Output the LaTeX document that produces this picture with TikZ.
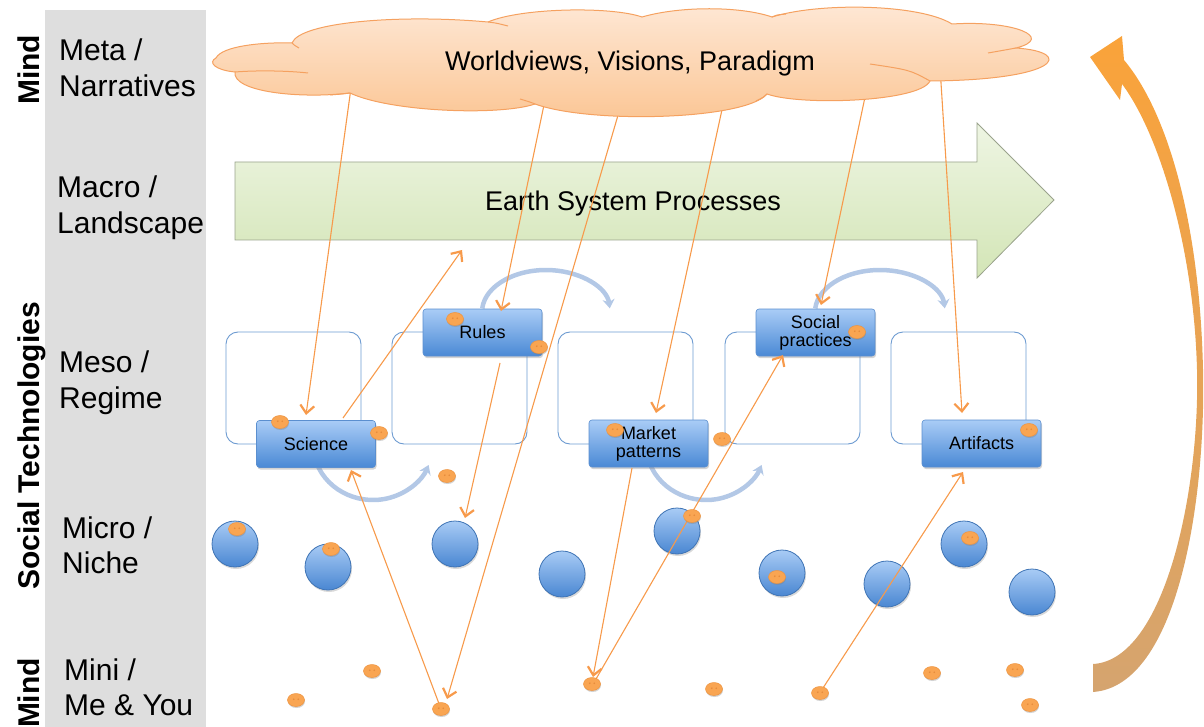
\documentclass[tikz,border=0pt]{standalone}
\usepackage{fontspec}
\setmainfont{Liberation Sans}
\usetikzlibrary{arrows.meta,shapes.geometric,shadows}
\definecolor{bandgray}{HTML}{DEDEDE}
\definecolor{gtop}{HTML}{EEF5E3}
\definecolor{gbot}{HTML}{D3E5B6}
\definecolor{gedge}{HTML}{9AA38C}
\definecolor{cltop}{HTML}{FEE8D6}
\definecolor{clbot}{HTML}{FBC593}
\definecolor{cledge}{HTML}{F5A160}
\definecolor{boxtop}{HTML}{A9CCF6}
\definecolor{boxbot}{HTML}{4A89D5}
\definecolor{boxedge}{HTML}{5B8FCF}
\definecolor{mesoedge}{HTML}{6D9BD1}
\definecolor{circtop}{HTML}{A8CBF5}
\definecolor{circbot}{HTML}{4A87D2}
\definecolor{circedge}{HTML}{3F74B5}
\definecolor{arcblue}{HTML}{B3C8E6}
\definecolor{conncol}{HTML}{F79A4B}
\definecolor{dotfill}{HTML}{F9A552}
\definecolor{dotedge}{HTML}{EE9440}
\definecolor{doteye}{HTML}{E58B3B}
\definecolor{bigtop}{HTML}{FAA33A}
\definecolor{bigbot}{HTML}{D5A46F}
\begin{document}
\begin{tikzpicture}[x=1pt,y=-1pt,
  lbl/.style={font=\fontsize{30}{36}\selectfont, anchor=base west, inner sep=0pt},
  vlbl/.style={font=\fontsize{30}{36}\selectfont\bfseries, rotate=90, anchor=base, inner sep=0pt},
  mesobox/.style={draw=mesoedge, line width=0.9pt, rounded corners=12pt, minimum width=135pt, minimum height=112pt, inner sep=0pt},
  bluebox/.style={draw=boxedge, line width=0.6pt, rounded corners=3pt, top color=boxtop, bottom color=boxbot, minimum width=119pt, minimum height=47pt, inner sep=0pt, align=center, font=\fontsize{18}{18}\selectfont, drop shadow={shadow xshift=1pt, shadow yshift=-2pt, opacity=0.35}},
  circ/.style={circle, draw=circedge, line width=0.8pt, top color=circtop, bottom color=circbot, minimum size=46pt, inner sep=0pt, drop shadow={shadow xshift=1pt, shadow yshift=-2pt, opacity=0.3}},
  odot/.style={ellipse, draw=dotedge, line width=0.5pt, fill=dotfill, minimum width=17pt, minimum height=13pt, inner sep=0pt, drop shadow={shadow xshift=0.5pt, shadow yshift=-1.5pt, opacity=0.35},
    path picture={\fill[doteye] ([xshift=-2.2pt,yshift=0.8pt]path picture bounding box.center) circle[radius=0.9pt] ([xshift=2.2pt,yshift=0.8pt]path picture bounding box.center) circle[radius=0.9pt];}},
  conn/.style={draw=conncol, line width=1.1pt, -{Straight Barb[length=8pt,width=14pt,line width=2.2pt]}},
  circarr/.style={draw=arcblue, line width=4.5pt, -{Stealth[length=9pt,width=12pt]}},
  cloudline/.style={draw=cledge, line width=1pt}
]
\useasboundingbox (0,0) rectangle (1204,727);
% gray band
\fill[bandgray] (45,10) rectangle (206,727);
% left labels
\node[lbl] (meta1) at (59,61) {Meta /};
\node[lbl] (meta2) at (59,97) {Narratives};
\node[lbl] (macro1) at (57,198) {Macro /};
\node[lbl] (macro2) at (57,234) {Landscape};
\node[lbl] (meso1) at (59,372) {Meso /};
\node[lbl] (meso2) at (59,408) {Regime};
\node[lbl] (micro1) at (62,538) {Micro /};
\node[lbl] (micro2) at (62,573) {Niche};
\node[lbl] (mini1) at (64,680) {Mini /};
\node[lbl] (mini2) at (64,715) {Me \& You};
\node[vlbl] (mindtop) at (39,70) {Mind};
\node[vlbl] (soctech) at (39,446) {Social Technologies};
\node[vlbl] (mindbot) at (39,693) {Mind};
% green arrow
\draw[draw=gedge, line width=0.8pt, top color=gtop, bottom color=gbot] (235,162) -- (977,162) -- (977,123) -- (1054,200) -- (977,278) -- (977,240) -- (235,240) -- cycle;
\node[font=\fontsize{27}{30}\selectfont, anchor=base, inner sep=0pt] (esp) at (633,211) {Earth System Processes};
% meso outline boxes
\foreach \i/\cx in {1/293.5, 2/459.5, 3/625.5, 4/792.5, 5/958.5}
  \node[mesobox] (mb\i) at (\cx,388) {};
% circular arrows
\draw[circarr] (373,444) ++(160:60 and 56) arc[start angle=160, end angle=22, x radius=60, y radius=56];
\draw[circarr] (706,444) ++(160:60 and 56) arc[start angle=160, end angle=22, x radius=60, y radius=56];
\draw[circarr] (546,312) ++(185:64 and 42) arc[start angle=185, end angle=355, x radius=64, y radius=42];
\draw[circarr] (880,312) ++(185:65 and 42) arc[start angle=185, end angle=355, x radius=65, y radius=42];
% blue boxes
\node[bluebox] (sci) at (316,444) {Science};
\node[bluebox] (rules) at (482.5,332.5) {Rules};
\node[bluebox] (mkt) at (648.5,443.5) {Market\\patterns};
\node[bluebox] (soc) at (815.5,332.5) {Social\\practices};
\node[bluebox] (art) at (981.5,443.5) {Artifacts};
% niche circles
\foreach \n/\cx/\cy in {1/235/544, 2/328/567, 3/455/544, 4/562/574, 5/677/531, 6/782/573, 7/887/584, 8/964/544, 9/1032/592}
  \node[circ] (c\n) at (\cx,\cy) {};
% coordinates for connectors
\coordinate (cl1) at (351,88);
\coordinate (cl2) at (545,100);
\coordinate (cl3) at (621,105);
\coordinate (cl4) at (723,105);
\coordinate (cl5) at (866.5,90);
\coordinate (cl6) at (940.5,75);
\coordinate (t1) at (306,415);
\coordinate (s1) at (343,418);
\coordinate (t2) at (462,250);
\coordinate (t3) at (501,311);
\coordinate (t4) at (447,699);
\coordinate (t5) at (656,413);
\coordinate (t6) at (821,305);
\coordinate (t7) at (962,413);
\coordinate (r1) at (500,363);
\coordinate (t8) at (465,518);
\coordinate (pm3) at (441,709);
\coordinate (t9) at (351,470);
\coordinate (mp1) at (632,468);
\coordinate (t10) at (593,677);
\coordinate (pm4) at (592,684);
\coordinate (s11) at (596,679);
\coordinate (t11) at (783,355);
\coordinate (pm6) at (820,693);
\coordinate (s12) at (823,688);
\coordinate (t12) at (963,472);
% connectors
\draw[conn] (cl1) -- (t1);
\draw[conn] (s1) -- (t2);
\draw[conn] (cl2) -- (t3);
\draw[conn] (cl3) -- (t4);
\draw[conn] (cl4) -- (t5);
\draw[conn] (cl5) -- (t6);
\draw[conn] (cl6) -- (t7);
\draw[conn] (r1) -- (t8);
\draw[conn] (pm3) -- (t9);
\draw[conn] (mp1) -- (t10);
\draw[conn] (s11) -- (t11);
\draw[conn] (s12) -- (t12);
% cloud
\path[draw=cledge, line width=1pt, top color=cltop, bottom color=clbot] (216,58)
 .. controls (222,46) and (262,42) .. (292,43)
 .. controls (300,22) and (400,14) .. (488,22)
 .. controls (520,8) and (610,6) .. (642,17)
 .. controls (680,6) and (740,6) .. (772,17)
 .. controls (820,2) and (920,4) .. (952,24)
 .. controls (1015,20) and (1055,38) .. (1016,48)
 .. controls (1075,52) and (1060,80) .. (930,81)
 .. controls (920,102) and (800,106) .. (767,94)
 .. controls (745,120) and (590,124) .. (535,104)
 .. controls (500,116) and (390,112) .. (350,93)
 .. controls (300,99) and (232,92) .. (235,72)
 .. controls (214,70) and (208,62) .. (216,58) -- cycle;
\draw[cloudline] (235,72) .. controls (260,70) and (290,71) .. (308,73);
\draw[cloudline] (292,43) .. controls (294,45) .. (299,48);
\draw[cloudline] (488,22) .. controls (496,23) .. (508,26);
\draw[cloudline] (772,17) .. controls (776,15) .. (786,14);
\draw[cloudline] (1016,48) .. controls (1005,50) .. (988,53);
\draw[cloudline] (930,81) .. controls (910,70) .. (870,64);
\draw[cloudline] (767,94) .. controls (764,97) .. (756,101);
\draw[cloudline] (535,104) .. controls (530,102) .. (520,99);
\draw[cloudline] (350,93) .. controls (342,94) .. (330,95);
\node[font=\fontsize{27}{30}\selectfont, anchor=base, inner sep=0pt] (wv) at (630,71) {Worldviews, Visions, Paradigm};
% orange dots
\foreach \n/\dx/\dy in {1/280/422, 2/379/433, 3/455/319, 4/539/347, 5/447/476, 6/615/430, 7/722/439, 8/857/332, 9/1029/430, 10/237/529, 11/331/549, 12/692/516, 13/777/577, 14/970/538}
  \node[odot] (d\n) at (\dx,\dy) {};
\node[odot] (m1) at (296,700) {};
\node[odot] (m2) at (372,671) {};
\node[odot] (m3) at (pm3) {};
\node[odot] (m4) at (pm4) {};
\node[odot] (m5) at (714,689) {};
\node[odot] (m6) at (pm6) {};
\node[odot] (m7) at (932,673) {};
\node[odot] (m8) at (1015,670) {};
\node[odot] (m9) at (1030,705) {};
% big feedback arrow
\shade[top color=bigtop, bottom color=bigbot] (1093,692)
 .. controls (1178,686) and (1206,500) .. (1203,370)
 .. controls (1200,230) and (1170,115) .. (1124,60)
 -- (1122,36) -- (1090,57) -- (1120,100) -- (1122,84)
 .. controls (1160,135) and (1194,250) .. (1197,370)
 .. controls (1200,490) and (1165,660) .. (1093,664) -- cycle;
\end{tikzpicture}
\end{document}
